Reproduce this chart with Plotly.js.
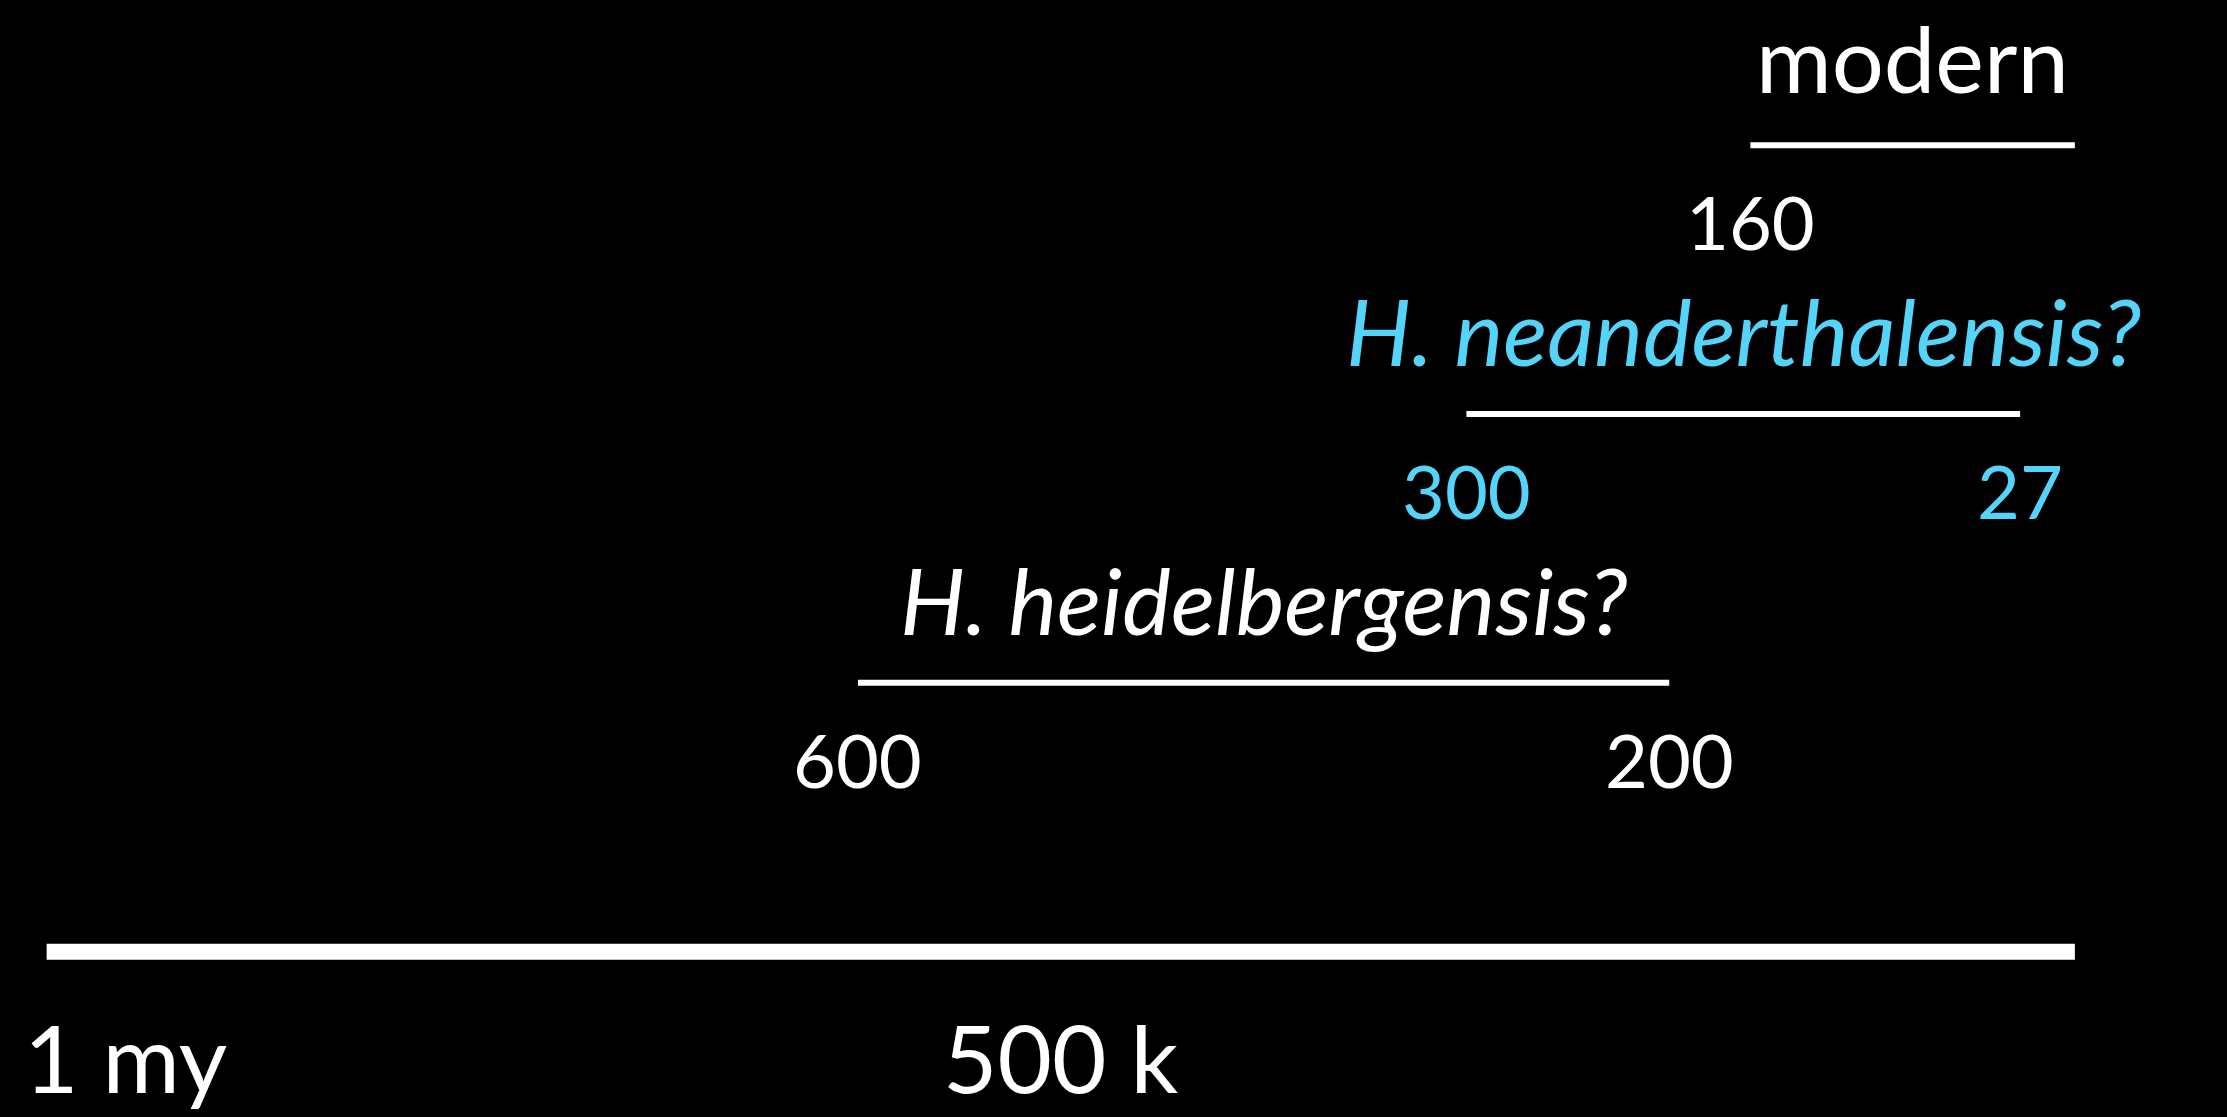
<!DOCTYPE html>
<html>
<head>
<meta charset="utf-8">
<script src="https://cdn.plot.ly/plotly-3.0.1.min.js"></script>
<style>
  html, body { margin: 0; padding: 0; background: #000; }
  #chart { width: 2227px; height: 1117px; }
</style>
</head>
<body>
<div id="chart"></div>
<script>
// ---- data (thousands of years ago) ----
const species     = ['modern', 'H. neanderthalensis?', 'H. heidelbergensis?'];
const startKya    = [160, 300, 600];
const endKya      = [0, 27, 200];
const startLabels = ['160', '300', '600'];
const endLabels   = ['', '27', '200'];
const rowIndex    = [3, 2, 1];
const highlight   = [false, true, false];

const timelineRange  = [1000, 0];
const timelineTicks  = [1000, 500];
const timelineLabels = ['1 my', '500 k'];
const timelineRow    = 0;

// ---- styles ----
const WHITE = '#ffffff';
const CYAN  = '#55d4fa';
const FONT  = 'Lato, "Open Sans", sans-serif';

const traces = [];
species.forEach((s, i) => {
  traces.push({
    type: 'scatter', mode: 'lines',
    x: [startKya[i], endKya[i]],
    y: [rowIndex[i], rowIndex[i]],
    line: { color: WHITE, width: 6 },
    hoverinfo: 'skip', showlegend: false
  });
});
traces.push({
  type: 'scatter', mode: 'lines',
  x: timelineRange, y: [timelineRow, timelineRow],
  line: { color: WHITE, width: 16 },
  hoverinfo: 'skip', showlegend: false
});

const annotations = [];
species.forEach((s, i) => {
  const col = highlight[i] ? CYAN : WHITE;
  const italic = s.startsWith('H.');
  annotations.push({
    x: (startKya[i] + endKya[i]) / 2, y: rowIndex[i],
    xref: 'x', yref: 'y', text: s, showarrow: false,
    xanchor: 'center', yanchor: 'bottom', yshift: italic ? 26 : 30,
    font: { family: FONT, size: 92, color: col, style: italic ? 'italic' : 'normal' }
  });
  annotations.push({
    x: startKya[i], y: rowIndex[i], xref: 'x', yref: 'y',
    text: startLabels[i], showarrow: false,
    xanchor: 'center', yanchor: 'top', yshift: -30,
    font: { family: FONT, size: 74, color: col }
  });
  if (endLabels[i]) {
    annotations.push({
      x: endKya[i], y: rowIndex[i], xref: 'x', yref: 'y',
      text: endLabels[i], showarrow: false,
      xanchor: 'center', yanchor: 'top', yshift: -30,
      font: { family: FONT, size: 74, color: col }
    });
  }
});
timelineTicks.forEach((t, i) => {
  annotations.push({
    x: t, y: timelineRow, xref: 'x', yref: 'y',
    text: timelineLabels[i], showarrow: false,
    xanchor: i === 0 ? 'left' : 'center', xshift: i === 0 ? -25 : 0,
    yanchor: 'top', yshift: -46,
    font: { family: FONT, size: 94, color: WHITE }
  });
});

const layout = {
  width: 2227, height: 1117,
  paper_bgcolor: '#000', plot_bgcolor: '#000',
  margin: { l: 0, r: 0, t: 0, b: 0 },
  xaxis: { range: [1023, -75], visible: false, fixedrange: true },
  yaxis: { range: [-0.615, 3.54], visible: false, fixedrange: true },
  annotations: annotations,
  showlegend: false
};

Plotly.newPlot('chart', traces, layout, { staticPlot: true });
</script>
</body>
</html>
